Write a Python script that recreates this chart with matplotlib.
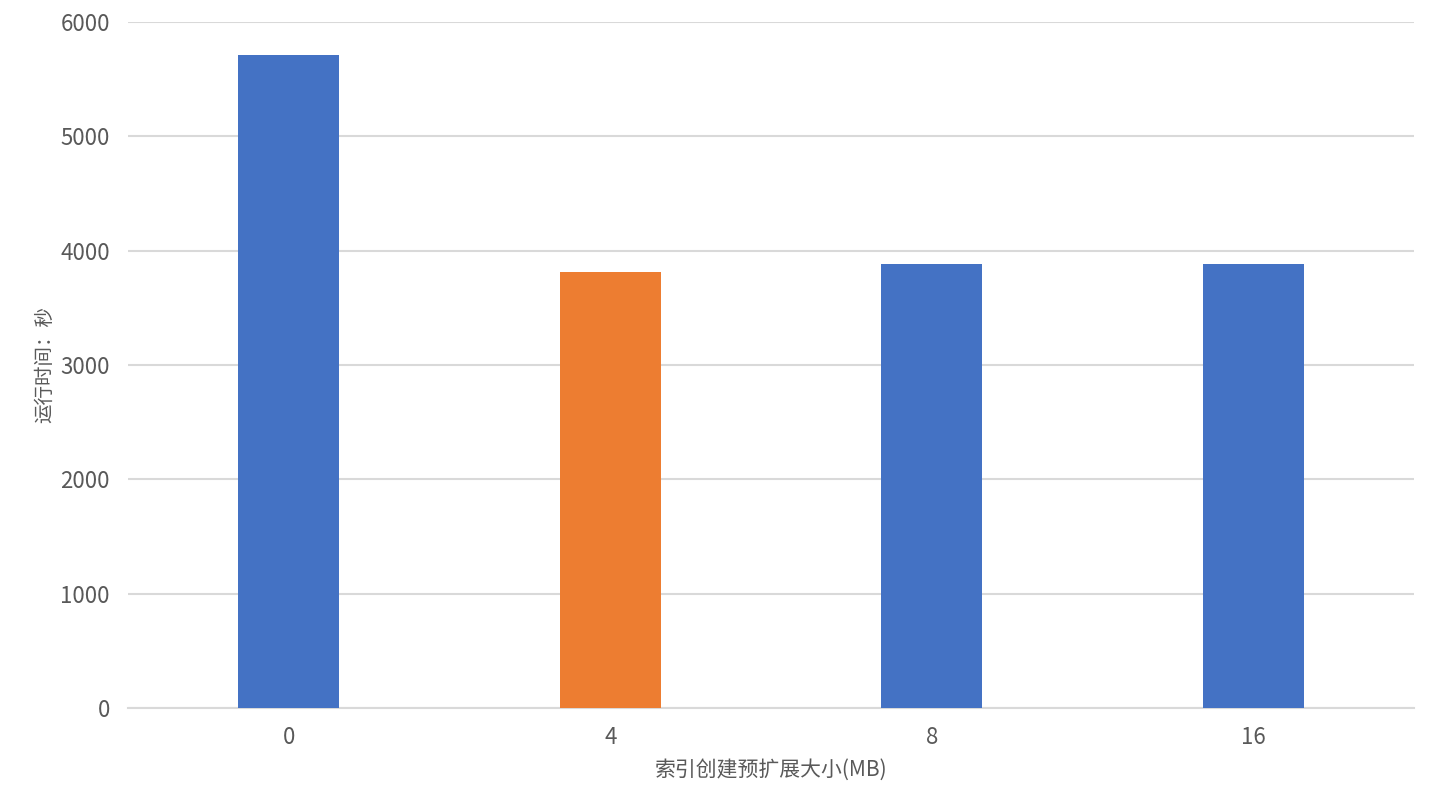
import matplotlib as mpl
mpl.use('Agg')
import matplotlib.pyplot as plt

plt.rcParams['font.family'] = ['Noto Sans CJK SC', 'DejaVu Sans']

# data
sizes = ['0', '4', '8', '16']
runtimes = [5711, 3813, 3883, 3883]
colors = ['#4472C4', '#ED7D31', '#4472C4', '#4472C4']

TEXT_COLOR = '#595959'
GRID_COLOR = '#D9D9D9'

fig = plt.figure(figsize=(14.37, 8.10), dpi=100)
ax = fig.add_axes([0.0891, 0.126, 0.895, 0.847])

x = range(len(sizes))
ax.bar(x, runtimes, width=0.314, color=colors, zorder=3)

ax.set_xlim(-0.5, len(sizes) - 0.5)
ax.set_ylim(0, 6000)
ax.set_yticks(range(0, 6001, 1000))
ax.set_xticks(list(x))
ax.set_xticklabels(sizes)

ax.yaxis.grid(True, color=GRID_COLOR, linewidth=1.5, zorder=0)
for s in ['top', 'right', 'left']:
    ax.spines[s].set_visible(False)
ax.spines['bottom'].set_color(GRID_COLOR)
ax.spines['bottom'].set_linewidth(1.5)
ax.tick_params(axis='both', length=0, labelsize=16, colors=TEXT_COLOR)
ax.tick_params(axis='y', pad=13)
ax.tick_params(axis='x', pad=13)

ax.set_xlabel('索引创建预扩展大小(MB)', fontsize=15, color=TEXT_COLOR, labelpad=7)
ax.set_ylabel('运行时间：秒', fontsize=14, color=TEXT_COLOR, labelpad=4)

fig.savefig('out.png', dpi=100)
